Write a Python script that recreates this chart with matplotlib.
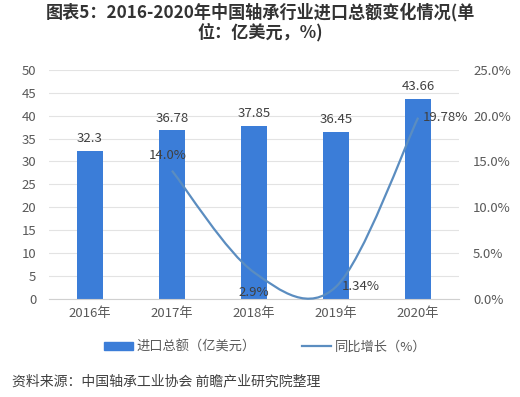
import matplotlib
matplotlib.use('Agg')
import matplotlib.pyplot as plt
from matplotlib.path import Path
from matplotlib.patches import PathPatch, Patch
from matplotlib.lines import Line2D
import numpy as np

plt.rcParams['font.family'] = ['Noto Sans CJK SC', 'DejaVu Sans']

years = ['2016年', '2017年', '2018年', '2019年', '2020年']
imports = [32.3, 36.78, 37.85, 36.45, 43.66]
growth_idx = [1, 2, 3, 4]
growth = [14.0, 2.9, 1.34, 19.78]
growth_labels = ['14.0%', '2.9%', '1.34%', '19.78%']

bar_color = '#3b7dd8'
line_color = '#5b8dc0'
txt = '#595959'

fig = plt.figure(figsize=(5.2, 3.97), dpi=100)
ax = fig.add_axes([0.094, 0.247, 0.789, 0.577])
ax2 = ax.twinx()

x = np.arange(len(years))
ax.bar(x, imports, width=0.32, color=bar_color, zorder=2)
for xi, v in zip(x, imports):
    ax.annotate(f'{v:g}', (xi, v), xytext=(0, 4), textcoords='offset points',
                ha='center', va='bottom', fontsize=9.5, color='#404040')

ax.set_xlim(-0.5, 4.5)
ax.set_ylim(0, 50)
ax.set_yticks(range(0, 51, 5))
ax.set_xticks(x)
ax.set_xticklabels(years)
ax.grid(axis='y', color='#e3e3e3', lw=0.8, zorder=0)
ax.set_axisbelow(True)

ax2.set_ylim(0, 25)
ax2.set_yticks(range(0, 26, 5))
ax2.set_yticklabels([f'{v:.1f}%' for v in range(0, 26, 5)])

for a in (ax, ax2):
    for s in a.spines.values():
        s.set_visible(False)
    a.tick_params(length=0, labelsize=9.5, colors=txt)
ax.spines['bottom'].set_visible(True)
ax.spines['bottom'].set_color('#d0d0d0')
ax.tick_params(axis='y', pad=9)
ax.tick_params(axis='x', pad=6)
ax2.tick_params(axis='y', pad=10)

# smoothed line (Bezier segments through the data points)
pts = np.column_stack([growth_idx, growth]).astype(float)
verts = [pts[0]]
codes = [Path.MOVETO]
n = len(pts)
for i in range(n - 1):
    p0 = pts[max(i - 1, 0)]
    p1 = pts[i]
    p2 = pts[i + 1]
    p3 = pts[min(i + 2, n - 1)]
    verts += [p1 + (p2 - p0) / 6, p2 - (p3 - p1) / 6, p2]
    codes += [Path.CURVE4] * 3
ax2.add_patch(PathPatch(Path(verts, codes), fill=False, edgecolor=line_color,
                        lw=1.6, zorder=3, clip_on=False))

offsets = [((-3, 6), 'center', 'bottom'), ((0, -10), 'center', 'top'),
           ((4, 0), 'left', 'center'), ((3, 0), 'left', 'center')]
for xi, v, lab, (off, ha, va) in zip(growth_idx, growth, growth_labels, offsets):
    ax2.annotate(lab, (xi, v), xytext=off, textcoords='offset points',
                 ha=ha, va=va, fontsize=9.5, color='#404040')

handles = [Patch(color=bar_color), Line2D([0], [0], color=line_color, lw=1.6)]
fig.legend(handles, ['进口总额（亿美元）', '同比增长（%）'], loc='center',
           bbox_to_anchor=(0.51, 0.126), ncol=2, frameon=False, fontsize=9.5,
           handlelength=2.2, handleheight=0.5, columnspacing=3.5, handletextpad=0.3,
           labelcolor=txt)

fig.text(0.5, 0.969, '图表5：2016-2020年中国轴承行业进口总额变化情况(单',
         ha='center', va='center', fontsize=12.3, fontweight='bold', color='#333333')
fig.text(0.5, 0.919, '位：亿美元，%)', ha='center', va='center',
         fontsize=12.3, fontweight='bold', color='#333333')
fig.text(0.023, 0.04, '资料来源：中国轴承工业协会 前瞻产业研究院整理',
         ha='left', va='center', fontsize=10, color='#404040')

fig.savefig('out.png', dpi=100)
